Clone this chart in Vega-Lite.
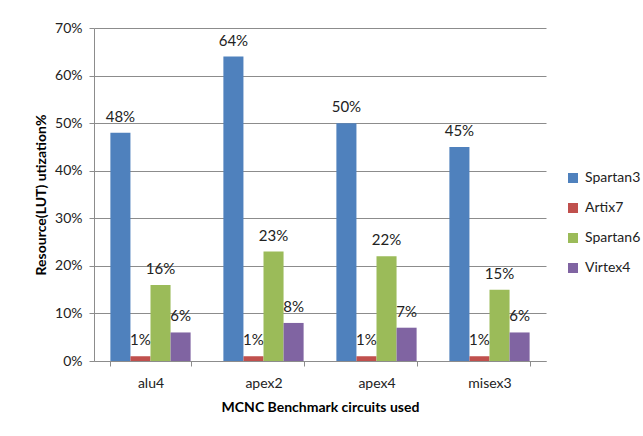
{
  "$schema": "https://vega.github.io/schema/vega-lite/v6.json",
  "width": 452,
  "height": 333,
  "autosize": {"type": "none"},
  "padding": {"left": 94, "top": 28, "right": 97, "bottom": 75},
  "background": "white",
  "data": {
    "values": [
      {"circuit": "alu4", "series": "Spartan3", "value": 0.48},
      {"circuit": "alu4", "series": "Artix7", "value": 0.01},
      {"circuit": "alu4", "series": "Spartan6", "value": 0.16},
      {"circuit": "alu4", "series": "Virtex4", "value": 0.06},
      {"circuit": "apex2", "series": "Spartan3", "value": 0.64},
      {"circuit": "apex2", "series": "Artix7", "value": 0.01},
      {"circuit": "apex2", "series": "Spartan6", "value": 0.23},
      {"circuit": "apex2", "series": "Virtex4", "value": 0.08},
      {"circuit": "apex4", "series": "Spartan3", "value": 0.50},
      {"circuit": "apex4", "series": "Artix7", "value": 0.01},
      {"circuit": "apex4", "series": "Spartan6", "value": 0.22},
      {"circuit": "apex4", "series": "Virtex4", "value": 0.07},
      {"circuit": "misex3", "series": "Spartan3", "value": 0.45},
      {"circuit": "misex3", "series": "Artix7", "value": 0.01},
      {"circuit": "misex3", "series": "Spartan6", "value": 0.15},
      {"circuit": "misex3", "series": "Virtex4", "value": 0.06}
    ]
  },
  "encoding": {
    "x": {
      "field": "circuit",
      "type": "nominal",
      "sort": ["alu4", "apex2", "apex4", "misex3"],
      "scale": {"paddingInner": 0.29, "paddingOuter": 0.145},
      "axis": {
        "title": "MCNC Benchmark circuits used",
        "titleFont": "Lato",
        "titleFontSize": 14,
        "titleFontWeight": "bold",
        "titleColor": "#000000",
        "titlePadding": 10,
        "labelAngle": 0,
        "labelFont": "Lato",
        "labelFontSize": 14,
        "labelColor": "#222222",
        "labelPadding": 10,
        "tickBand": "extent",
        "tickSize": 5,
        "tickColor": "#8c8c8c",
        "domainColor": "#8c8c8c",
        "grid": false
      }
    },
    "xOffset": {
      "field": "series",
      "type": "nominal",
      "sort": ["Spartan3", "Artix7", "Spartan6", "Virtex4"]
    },
    "y": {
      "field": "value",
      "type": "quantitative",
      "scale": {"domain": [0, 0.7]},
      "axis": {
        "title": "Resource(LUT) utization%",
        "titleFont": "Lato",
        "titleFontSize": 14,
        "titleFontWeight": "bold",
        "titleColor": "#000000",
        "titlePadding": 6,
        "format": ".0%",
        "values": [0, 0.1, 0.2, 0.3, 0.4, 0.5, 0.6, 0.7],
        "labelFont": "Lato",
        "labelFontSize": 14,
        "labelColor": "#222222",
        "labelPadding": 7,
        "tickSize": 5,
        "tickColor": "#8c8c8c",
        "domainColor": "#8c8c8c",
        "gridColor": "#8c8c8c",
        "grid": true
      }
    }
  },
  "layer": [
    {
      "mark": {"type": "bar"},
      "encoding": {
        "color": {
          "field": "series",
          "type": "nominal",
          "sort": ["Spartan3", "Artix7", "Spartan6", "Virtex4"],
          "scale": {
            "domain": ["Spartan3", "Artix7", "Spartan6", "Virtex4"],
            "range": ["#4F81BD", "#C0504D", "#9BBB59", "#8064A2"]
          },
          "legend": {
            "title": null,
            "orient": "none",
            "legendX": 472,
            "legendY": 143,
            "symbolType": "square",
            "symbolSize": 100,
            "symbolStrokeWidth": 0,
            "labelFont": "Lato",
            "labelFontSize": 14,
            "labelColor": "#222222",
            "rowPadding": 16,
            "labelOffset": 5
          }
        }
      }
    },
    {
      "mark": {"type": "text", "baseline": "bottom", "dy": -8, "font": "Lato", "fontSize": 15, "color": "#222222"},
      "encoding": {
        "text": {"field": "value", "type": "quantitative", "format": ".0%"}
      }
    }
  ],
  "config": {
    "view": {"stroke": null}
  }
}
